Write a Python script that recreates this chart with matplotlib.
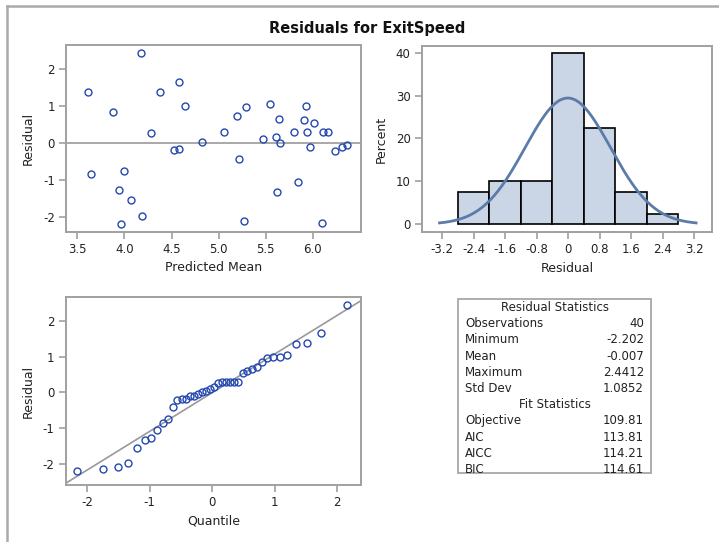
import statistics

import matplotlib
matplotlib.use("Agg")
import matplotlib.pyplot as plt
import numpy as np
from matplotlib.lines import Line2D
from matplotlib.patches import Rectangle

# residuals vs predicted mean
pred_mean = [3.616, 3.641, 3.880, 3.944, 3.968, 3.996, 4.074, 4.180, 4.190, 4.282,
             4.373, 4.521, 4.577, 4.581, 4.641, 4.824, 5.053, 5.194, 5.218, 5.271,
             5.289, 5.465, 5.546, 5.606, 5.623, 5.637, 5.651, 5.803, 5.845, 5.901,
             5.926, 5.933, 5.972, 6.011, 6.092, 6.106, 6.158, 6.229, 6.310, 6.363]
residual = [1.387, -0.847, 0.847, -1.279, -2.202, -0.757, -1.550, 2.441, -1.982, 0.261,
            1.369, -0.189, 1.658, -0.171, 1.000, 0.027, 0.297, 0.720, -0.423, -2.099,
            0.964, 0.099, 1.054, 0.162, -1.333, 0.649, 0.000, 0.297, -1.045, 0.613,
            1.000, 0.297, -0.108, 0.550, -2.153, 0.297, 0.297, -0.207, -0.108, -0.045]

# histogram (percent per 0.8-wide bin)
bin_centers = [-2.4, -1.6, -0.8, 0.0, 0.8, 1.6, 2.4]
bin_percent = [7.5, 10.0, 10.0, 40.0, 22.5, 7.5, 2.5]
bin_width = 0.8
hist_ticks = [-3.2, -2.4, -1.6, -0.8, 0, 0.8, 1.6, 2.4, 3.2]
hist_ticklabels = ["-3.2", "-2.4", "-1.6", "-0.8", "0", "0.8", "1.6", "2.4", "3.2"]

# summary statistics table
res_mean = -0.007
res_std = 1.0852
res_stats = [("Observations", "40"), ("Minimum", "-2.202"), ("Mean", "-0.007"),
             ("Maximum", "2.4412"), ("Std Dev", "1.0852")]
fit_stats = [("Objective", "109.81"), ("AIC", "113.81"), ("AICC", "114.21"),
             ("BIC", "114.61")]

W, H = 719, 542
MARK = "#2348b0"
SPINE = "#a0a0a0"
TXT = "#222222"
plt.rcParams["font.family"] = ["DejaVu Sans"]
plt.rcParams["font.size"] = 8.5
plt.rcParams["axes.unicode_minus"] = False


def px_axes(fig, x0, y0, x1, y1):
    return fig.add_axes([x0 / W, 1 - y1 / H, (x1 - x0) / W, (y1 - y0) / H])


def style(ax):
    for s in ax.spines.values():
        s.set_color(SPINE)
        s.set_linewidth(1.4)
    ax.tick_params(direction="out", length=5, width=1.2, color=SPINE,
                   labelcolor=TXT, labelsize=8.5, pad=3)


fig = plt.figure(figsize=(W / 100, H / 100), dpi=100)

# outer frame (clipped at right/bottom like the reference)
fig.add_artist(Line2D([6.5 / W, 1.0], [1 - 5.5 / H, 1 - 5.5 / H],
                      transform=fig.transFigure, color="#aaaaaa", lw=1.8))
fig.add_artist(Line2D([6.5 / W, 6.5 / W], [0.0, 1 - 5.5 / H],
                      transform=fig.transFigure, color="#aaaaaa", lw=1.8))

fig.text(367 / W, 1 - 28 / H, "Residuals for ExitSpeed", ha="center", va="center",
         fontsize=10.5, fontweight="bold", color="#111111")

# panel 1: residual vs predicted mean
ax1 = px_axes(fig, 66, 45.3, 361, 231.7)
style(ax1)
ax1.axhline(0, color="#999999", lw=1.2, zorder=1)
ax1.plot(pred_mean, residual, "o", mfc="none", mec=MARK, mew=1.0, ms=5, zorder=3)
ax1.set_xlim(3.38, 6.51)
ax1.set_ylim(-2.40, 2.64)
ax1.set_xticks([3.5, 4.0, 4.5, 5.0, 5.5, 6.0])
ax1.set_xticklabels(["3.5", "4.0", "4.5", "5.0", "5.5", "6.0"])
ax1.set_yticks([-2, -1, 0, 1, 2])
ax1.set_xlabel("Predicted Mean", fontsize=9, color=TXT, labelpad=4)
ax1.set_ylabel("Residual", fontsize=9, color=TXT, labelpad=6)

# panel 2: histogram with normal curve
ax2 = px_axes(fig, 421.7, 45.7, 712.3, 232.3)
style(ax2)
ax2.bar(bin_centers, bin_percent, width=bin_width, color="#cad5e6",
        edgecolor="black", linewidth=1.2, zorder=2)
xs = np.linspace(res_mean - 3 * res_std, res_mean + 3 * res_std, 200)
dens = [statistics.NormalDist(res_mean, res_std).pdf(v) * bin_width * 100 for v in xs]
ax2.plot(xs, dens, color="#5b7ba8", lw=2, zorder=3)
ax2.set_xlim(-3.715, 3.66)
ax2.set_ylim(-1.86, 41.6)
ax2.set_xticks(hist_ticks)
ax2.set_xticklabels(hist_ticklabels)
ax2.set_yticks([0, 10, 20, 30, 40])
ax2.set_xlabel("Residual", fontsize=9, color=TXT, labelpad=4)
ax2.set_ylabel("Percent", fontsize=9, color=TXT, labelpad=6)

# panel 3: normal quantile plot (Blom plotting positions)
ax3 = px_axes(fig, 65.7, 297.3, 361, 484.7)
style(ax3)
n = len(residual)
sorted_res = sorted(residual)
nd = statistics.NormalDist()
quant = [nd.inv_cdf((i + 1 - 0.375) / (n + 0.25)) for i in range(n)]
ax3.set_xlim(-2.344, 2.38)
ax3.set_ylim(-2.59, 2.67)
lx = np.array(ax3.get_xlim())
ax3.plot(lx, res_mean + res_std * lx, color="#999999", lw=1.2, zorder=1)
ax3.plot(quant, sorted_res, "o", mfc="none", mec=MARK, mew=1.0, ms=5, zorder=3)
ax3.set_xticks([-2, -1, 0, 1, 2])
ax3.set_yticks([-2, -1, 0, 1, 2])
ax3.set_xlabel("Quantile", fontsize=9, color=TXT, labelpad=4)
ax3.set_ylabel("Residual", fontsize=9, color=TXT, labelpad=6)

# stats table
tx0, ty0, tx1, ty1 = 458.3, 299, 651.3, 473.3
fig.add_artist(Rectangle((tx0 / W, 1 - ty1 / H), (tx1 - tx0) / W, (ty1 - ty0) / H,
                         transform=fig.transFigure, fill=False,
                         edgecolor="#a0a0a0", lw=1.2))
row_h = 16.2
y = 307.5
fig.text((tx0 + tx1) / 2 / W, 1 - y / H, "Residual Statistics", ha="center",
         va="center", fontsize=8.5, color=TXT)
for lab, val in res_stats:
    y += row_h
    fig.text(465 / W, 1 - y / H, lab, ha="left", va="center", fontsize=8.5, color=TXT)
    fig.text(644 / W, 1 - y / H, val, ha="right", va="center", fontsize=8.5, color=TXT)
y += row_h
fig.text((tx0 + tx1) / 2 / W, 1 - y / H, "Fit Statistics", ha="center",
         va="center", fontsize=8.5, color=TXT)
for lab, val in fit_stats:
    y += row_h
    fig.text(465 / W, 1 - y / H, lab, ha="left", va="center", fontsize=8.5, color=TXT)
    fig.text(644 / W, 1 - y / H, val, ha="right", va="center", fontsize=8.5, color=TXT)

fig.savefig("out.png", dpi=100, facecolor="white")
